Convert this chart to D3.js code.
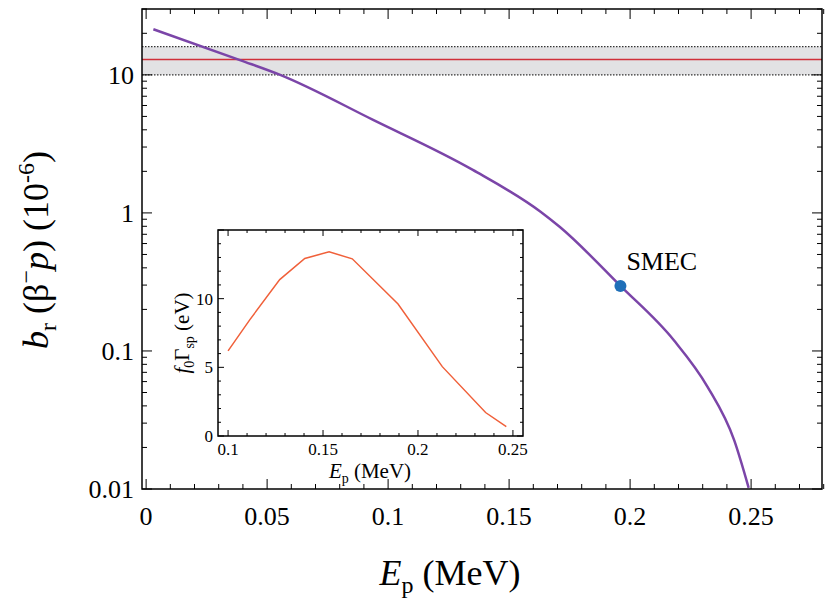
<!DOCTYPE html><html><head><meta charset="utf-8"><script src="https://cdn.jsdelivr.net/npm/d3@7"></script>
<style>body{margin:0;background:#fff}text{font-family:"Liberation Serif","Times New Roman",serif;fill:#000}</style></head><body>
<svg id="c" width="830" height="614"></svg>
<script>
const mainE=[0.003,0.0388,0.0554,0.0938,0.135,0.163,0.171,0.196,0.218,0.232,0.243,0.249];
const mainB=[21.4,12.8,10,4.72,2.05,1.02,0.79,0.296,0.12,0.055,0.0226,0.0102];
const bandLow=10.0, bandHigh=16.0, bandMid=12.9;
const smec=[0.196,0.296];
const xTicks=[0,0.05,0.1,0.15,0.2,0.25], yTicks=[0.01,0.1,1,10];
const insetE=[0.1,0.1114,0.1272,0.1404,0.1532,0.1654,0.1895,0.2128,0.2356,0.2465];
const insetF=[6.2,8.46,11.39,12.93,13.41,12.9,9.61,5.05,1.71,0.68];
const insetXT=[0.1,0.15,0.2,0.25], insetYT=[0,5,10];

const svg=d3.select("#c");
const L=142,R=822,T=9,B=489;
const x=d3.scaleLinear().domain([-0.0017,0.2793]).range([L,R]);
const y=d3.scaleLog().domain([0.01,30]).range([B,T]);
svg.append("rect").attr("x",L).attr("y",y(bandHigh)).attr("width",R-L).attr("height",y(bandLow)-y(bandHigh)).attr("fill","#e2e2e4");
[bandLow,bandHigh].forEach(v=>svg.append("line").attr("x1",L).attr("x2",R).attr("y1",y(v)).attr("y2",y(v)).attr("stroke","#333").attr("stroke-dasharray","1.5,1.5").attr("stroke-width",1.2));
svg.append("line").attr("x1",L).attr("x2",R).attr("y1",y(bandMid)).attr("y2",y(bandMid)).attr("stroke","#d0303a").attr("stroke-width",1.5);
svg.append("path").datum(mainE.map((e,i)=>[e,mainB[i]])).attr("d",d3.line().x(d=>x(d[0])).y(d=>y(d[1])).curve(d3.curveMonotoneX)).attr("fill","none").attr("stroke","#7b45a8").attr("stroke-width",2.5);
svg.append("circle").attr("cx",x(smec[0])).attr("cy",y(smec[1])).attr("r",6).attr("fill","#1f6fb8");
svg.append("text").attr("x",x(smec[0])+6).attr("y",y(smec[1])-16).attr("font-size",26).text("SMEC");

function frame(g,x0,x1,y0,y1){g.append("rect").attr("x",x0).attr("y",y0).attr("width",x1-x0).attr("height",y1-y0).attr("fill","none").attr("stroke","#000").attr("stroke-width",1.5);}
const mg=svg.append("g");
d3.range(0,0.28,0.01).forEach(v=>{const big=Math.abs(v*20-Math.round(v*20))<1e-6;const l=big?10:5;
 mg.append("line").attr("x1",x(v)).attr("x2",x(v)).attr("y1",B).attr("y2",B-l).attr("stroke","#000");
 mg.append("line").attr("x1",x(v)).attr("x2",x(v)).attr("y1",T).attr("y2",T+l).attr("stroke","#000");});
xTicks.forEach(v=>mg.append("text").attr("x",x(v)).attr("y",B+36).attr("text-anchor","middle").attr("font-size",26).text(v));
for(let e=-2;e<=1;e++)for(let m=1;m<10;m++){const v=m*Math.pow(10,e);if(v>30)continue;const l=m==1?10:5;
 mg.append("line").attr("x1",L).attr("x2",L+l).attr("y1",y(v)).attr("y2",y(v)).attr("stroke","#000");
 mg.append("line").attr("x1",R).attr("x2",R-l).attr("y1",y(v)).attr("y2",y(v)).attr("stroke","#000");}
yTicks.forEach(v=>mg.append("text").attr("x",L-8).attr("y",y(v)+9).attr("text-anchor","end").attr("font-size",26).text(v));
frame(svg,L,R,T,B);
const xl=svg.append("text").attr("x",450).attr("y",585).attr("text-anchor","middle").attr("font-size",36);
xl.append("tspan").attr("font-style","italic").text("E");xl.append("tspan").attr("font-size",24).attr("dy",8).text("p");xl.append("tspan").attr("dy",-8).text(" (MeV)");
const yl=svg.append("text").attr("transform","translate(48,250) rotate(-90)").attr("text-anchor","middle").attr("font-size",36);
yl.append("tspan").attr("font-style","italic").text("b");yl.append("tspan").attr("font-size",24).attr("dy",8).text("r");
yl.append("tspan").attr("dy",-8).text(" (β");yl.append("tspan").attr("font-size",24).attr("dy",-14).text("−");
yl.append("tspan").attr("dy",14).attr("font-style","italic").text("p");yl.append("tspan").text(") (10");
yl.append("tspan").attr("font-size",24).attr("dy",-14).text("-6");yl.append("tspan").attr("dy",14).text(")");

const iL=218,iR=523,iT=230,iB=436;
const ix=d3.scaleLinear().domain([0.0947,0.2553]).range([iL,iR]);
const iy=d3.scaleLinear().domain([0,15]).range([iB,iT]);
svg.append("rect").attr("x",iL).attr("y",iT).attr("width",iR-iL).attr("height",iB-iT).attr("fill","#fff");
svg.append("path").datum(insetE.map((e,i)=>[e,insetF[i]])).attr("d",d3.line().x(d=>ix(d[0])).y(d=>iy(d[1]))).attr("fill","none").attr("stroke","#f0603a").attr("stroke-width",1.5);
d3.range(0.1,0.255,0.01).forEach(v=>{const big=Math.abs(v*20-Math.round(v*20))<1e-6;const l=big?6:3;
 svg.append("line").attr("x1",ix(v)).attr("x2",ix(v)).attr("y1",iB).attr("y2",iB-l).attr("stroke","#000");
 svg.append("line").attr("x1",ix(v)).attr("x2",ix(v)).attr("y1",iT).attr("y2",iT+l).attr("stroke","#000");});
d3.range(0,15.1,1).forEach(v=>{const l=v%5==0?6:3;
 svg.append("line").attr("x1",iL).attr("x2",iL+l).attr("y1",iy(v)).attr("y2",iy(v)).attr("stroke","#000");
 svg.append("line").attr("x1",iR).attr("x2",iR-l).attr("y1",iy(v)).attr("y2",iy(v)).attr("stroke","#000");});
insetXT.forEach(v=>svg.append("text").attr("x",ix(v)).attr("y",iB+19).attr("text-anchor","middle").attr("font-size",17).text(v));
insetYT.forEach(v=>svg.append("text").attr("x",iL-5).attr("y",iy(v)+6).attr("text-anchor","end").attr("font-size",17).text(v));
frame(svg,iL,iR,iT,iB);
const ixl=svg.append("text").attr("x",370).attr("y",478).attr("text-anchor","middle").attr("font-size",21);
ixl.append("tspan").attr("font-style","italic").text("E");ixl.append("tspan").attr("font-size",14).attr("dy",5).text("p");ixl.append("tspan").attr("dy",-5).text(" (MeV)");
const iyl=svg.append("text").attr("transform","translate(189,333) rotate(-90)").attr("text-anchor","middle").attr("font-size",21);
iyl.append("tspan").attr("font-style","italic").text("f");iyl.append("tspan").attr("font-size",14).attr("dy",5).text("0");
iyl.append("tspan").attr("dy",-5).text("Γ");iyl.append("tspan").attr("font-size",14).attr("dy",5).text("sp");iyl.append("tspan").attr("dy",-5).text(" (eV)");
</script></body></html>
